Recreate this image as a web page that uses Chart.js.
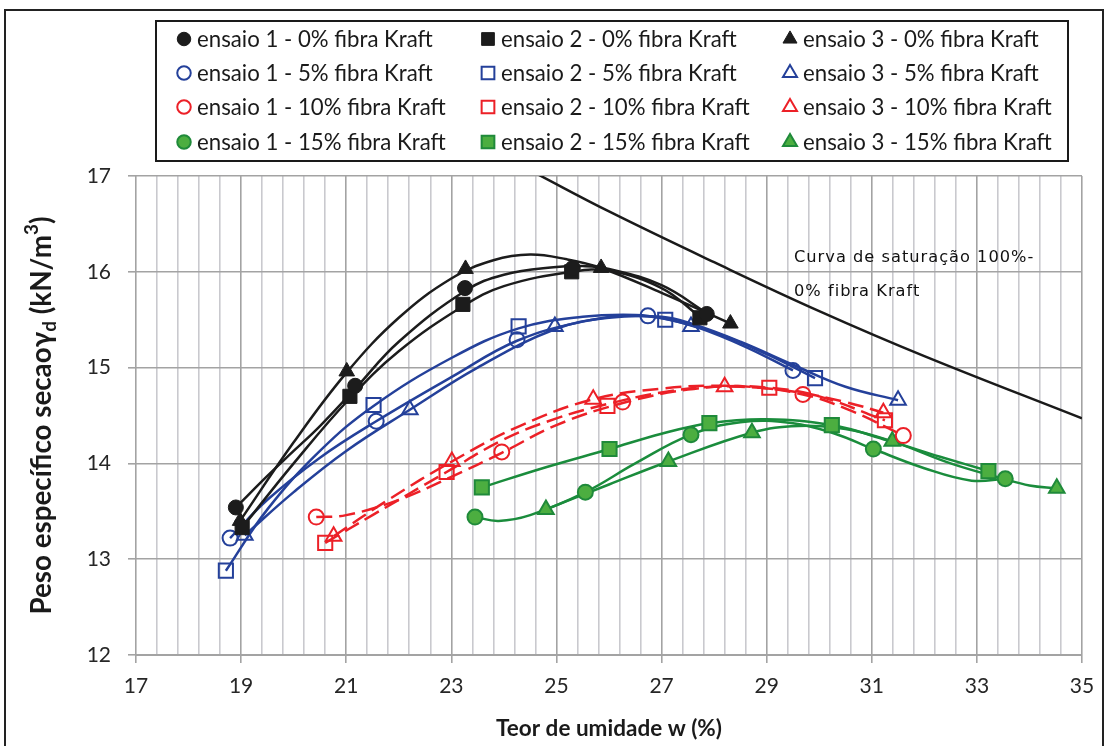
<!DOCTYPE html>
<html><head><meta charset="utf-8">
<script src="https://cdn.jsdelivr.net/npm/chart.js@4.4.1/dist/chart.umd.min.js"></script>
<style>html,body{margin:0;padding:0;background:#fff;}canvas{display:block;}</style>
</head><body>
<canvas id="c" width="1107" height="746"></canvas>
<script>
// ---------- tick labels ----------
const xTickLabels = [17, 19, 21, 23, 25, 27, 29, 31, 33, 35];
const yTickLabels = [12, 13, 14, 15, 16, 17];

// ---------- legend / series names ----------
const seriesNames = [
  'ensaio 1 - 0% fibra Kraft', 'ensaio 2 - 0% fibra Kraft', 'ensaio 3 - 0% fibra Kraft',
  'ensaio 1 - 5% fibra Kraft', 'ensaio 2 - 5% fibra Kraft', 'ensaio 3 - 5% fibra Kraft',
  'ensaio 1 - 10% fibra Kraft', 'ensaio 2 - 10% fibra Kraft', 'ensaio 3 - 10% fibra Kraft',
  'ensaio 1 - 15% fibra Kraft', 'ensaio 2 - 15% fibra Kraft', 'ensaio 3 - 15% fibra Kraft'
];

// ---------- measured points (w %, gamma_d kN/m3) ----------
const w0_e1 = [18.90, 21.17, 23.26, 25.31, 27.86];
const g0_e1 = [13.54, 14.81, 15.83, 16.04, 15.56];
const w0_e2 = [19.02, 21.07, 23.22, 25.29, 27.73];
const g0_e2 = [13.33, 14.70, 15.66, 16.00, 15.52];
const w0_e3 = [18.98, 21.01, 23.27, 25.85, 28.31];
const g0_e3 = [13.40, 14.96, 16.03, 16.04, 15.46];

const w5_e1 = [18.79, 21.57, 24.25, 26.74, 29.50];
const g5_e1 = [13.22, 14.44, 15.29, 15.54, 14.97];
const w5_e2 = [18.71, 21.52, 24.28, 27.07, 29.92];
const g5_e2 = [12.88, 14.61, 15.43, 15.50, 14.89];
const w5_e3 = [19.07, 22.21, 24.97, 27.56, 31.50];
const g5_e3 = [13.25, 14.56, 15.43, 15.43, 14.66];

const w10_e1 = [20.43, 23.96, 26.26, 29.69, 31.60];
const g10_e1 = [13.44, 14.12, 14.64, 14.72, 14.29];
const w10_e2 = [20.60, 22.91, 25.97, 29.05, 31.25];
const g10_e2 = [13.17, 13.91, 14.60, 14.79, 14.45];
const w10_e3 = [20.76, 23.01, 25.70, 28.20, 31.22];
const g10_e3 = [13.24, 14.02, 14.67, 14.80, 14.53];

const w15_e1 = [23.45, 25.55, 27.56, 31.03, 33.54];
const g15_e1 = [13.44, 13.70, 14.30, 14.15, 13.84];
const w15_e2 = [23.58, 26.01, 27.91, 30.24, 33.22];
const g15_e2 = [13.75, 14.15, 14.42, 14.40, 13.92];
const w15_e3 = [24.80, 27.13, 28.72, 31.39, 34.52];
const g15_e3 = [13.52, 14.02, 14.32, 14.23, 13.74];

// ---------- trend curves ----------
const cw0_e1 = [18.9, 19.5, 20, 20.5, 21.17, 22, 23.26, 24, 25, 25.5, 26, 27, 27.86];
const cg0_e1 = [13.54, 13.87, 14.13, 14.39, 14.78, 15.27, 15.80, 15.97, 16.05, 16.06, 16.03, 15.86, 15.57];
const cw0_e2 = [19.02, 20, 21.07, 22, 23.22, 24, 25.29, 26, 27, 27.73];
const cg0_e2 = [13.33, 14.00, 14.68, 15.17, 15.64, 15.85, 16.00, 16.01, 15.83, 15.53];
const cw0_e3 = [18.98, 20, 21.01, 22, 23, 23.8, 24.5, 25.2, 25.85, 27, 28.31];
const cg0_e3 = [13.40, 14.22, 14.95, 15.52, 15.93, 16.12, 16.18, 16.13, 16.04, 15.78, 15.46];

const cw5_e1 = [18.79, 19.5, 20.5, 21.57, 23, 24.25, 25.5, 26.5, 27.5, 28.5, 29.5];
const cg5_e1 = [13.22, 13.62, 14.06, 14.44, 14.90, 15.28, 15.48, 15.54, 15.45, 15.24, 14.97];
const cw5_e2 = [18.71, 19.5, 20.5, 21.52, 23, 24.28, 25.5, 26.5, 27.07, 28, 29, 29.92];
const cg5_e2 = [12.88, 13.52, 14.13, 14.60, 15.10, 15.41, 15.53, 15.55, 15.51, 15.37, 15.14, 14.89];
const cw5_e3 = [19.07, 20, 21, 22.21, 23.5, 24.97, 26, 27, 27.56, 28.5, 29.5, 30.5, 31.5];
const cg5_e3 = [13.25, 13.70, 14.13, 14.56, 15.00, 15.40, 15.52, 15.53, 15.46, 15.27, 15.03, 14.80, 14.66];

const cw10_e1 = [20.43, 21, 22, 23, 23.96, 25, 26.26, 27.5, 28.5, 29.69, 30.6, 31.6];
const cg10_e1 = [13.44, 13.46, 13.62, 13.86, 14.11, 14.40, 14.63, 14.77, 14.80, 14.72, 14.55, 14.29];
const cw10_e2 = [20.60, 21.5, 22.91, 24, 25, 25.97, 27, 28, 29.05, 30, 31.25];
const cg10_e2 = [13.17, 13.46, 13.91, 14.25, 14.47, 14.62, 14.74, 14.80, 14.79, 14.70, 14.45];
const cw10_e3 = [20.76, 21.8, 23.01, 24.3, 25.70, 27, 28.20, 29.5, 30.5, 31.22];
const cg10_e3 = [13.24, 13.62, 14.02, 14.39, 14.67, 14.78, 14.81, 14.75, 14.64, 14.53];

const cw15_e1 = [23.45, 23.9, 24.5, 25.55, 26.5, 27.56, 28.5, 29.5, 30.3, 31.03, 32, 32.9, 33.54];
const cg15_e1 = [13.44, 13.40, 13.46, 13.70, 14.00, 14.30, 14.43, 14.42, 14.31, 14.15, 13.95, 13.82, 13.84];
const cw15_e2 = [23.58, 24.8, 26.01, 27, 27.91, 29, 30.24, 31.3, 32.3, 33.22];
const cg15_e2 = [13.75, 13.96, 14.15, 14.31, 14.42, 14.46, 14.40, 14.24, 14.07, 13.92];
const cw15_e3 = [24.80, 26, 27.13, 28.72, 29.6, 30.5, 31.39, 32.5, 33.5, 34.0, 34.52];
const cg15_e3 = [13.52, 13.78, 14.02, 14.32, 14.39, 14.36, 14.23, 14.00, 13.84, 13.77, 13.74];

// saturation curve (100%, 0% fibra Kraft)
const satW = [24.6, 26, 28, 30, 32, 35];
const satG = [17.03, 16.63, 16.10, 15.59, 15.12, 14.47];
const satLabel = ['Curva de saturação 100%-', '0% fibra Kraft'];

// ---------- styles ----------
const BLACK = '#1c1c1c', BLUE = '#24409a', RED = '#ec2027', GREEN_F = '#4cae40', GREEN_B = '#1f8a3a', GREEN_L = '#1a8c3c';
const markerW = [w0_e1, w0_e2, w0_e3, w5_e1, w5_e2, w5_e3, w10_e1, w10_e2, w10_e3, w15_e1, w15_e2, w15_e3];
const markerG = [g0_e1, g0_e2, g0_e3, g5_e1, g5_e2, g5_e3, g10_e1, g10_e2, g10_e3, g15_e1, g15_e2, g15_e3];
const curveW = [cw0_e1, cw0_e2, cw0_e3, cw5_e1, cw5_e2, cw5_e3, cw10_e1, cw10_e2, cw10_e3, cw15_e1, cw15_e2, cw15_e3];
const curveG = [cg0_e1, cg0_e2, cg0_e3, cg5_e1, cg5_e2, cg5_e3, cg10_e1, cg10_e2, cg10_e3, cg15_e1, cg15_e2, cg15_e3];
const styles = [];
const groupStyle = [
  {stroke: BLACK, fill: BLACK, line: BLACK, dash: []},
  {stroke: BLUE, fill: 'rgba(0,0,0,0)', line: BLUE, dash: []},
  {stroke: RED, fill: 'rgba(0,0,0,0)', line: RED, dash: [16, 7]},
  {stroke: GREEN_B, fill: GREEN_F, line: GREEN_L, dash: []}
];
const shapes = [{ps: 'circle', r: 7.5}, {ps: 'rect', r: 10}, {ps: 'triangle', r: 9}];
for (let g = 0; g < 4; g++) for (let s = 0; s < 3; s++) {
  const gs = groupStyle[g];
  styles.push({ps: shapes[s].ps, r: shapes[s].r, stroke: gs.stroke, fill: gs.fill, line: gs.line, dash: gs.dash, bw: (g === 0) ? 1 : 2});
}

const toXY = (xs, ys) => xs.map((x, i) => ({x: x, y: ys[i]}));
const datasets = [];
for (let i = 0; i < 12; i++) {
  const st = styles[i];
  datasets.push({
    label: seriesNames[i], data: toXY(markerW[i], markerG[i]), showLine: false, order: 0,
    pointStyle: st.ps, pointRadius: st.r, pointHoverRadius: st.r,
    pointBackgroundColor: st.fill, pointBorderColor: st.stroke, pointBorderWidth: st.bw
  });
}
for (let i = 0; i < 12; i++) {
  const st = styles[i];
  datasets.push({
    label: 'curve ' + i, data: toXY(curveW[i], curveG[i]), showLine: true, order: 1,
    pointRadius: 0, borderColor: st.line, borderWidth: 2.5, borderDash: st.dash, tension: 0.4, fill: false
  });
}
datasets.push({label: 'saturação', data: toXY(satW, satG), showLine: true, order: 1, pointRadius: 0,
  borderColor: '#1a1a1a', borderWidth: 2.5, tension: 0.4, fill: false});

const FONT = 'Lato, "Open Sans", sans-serif';
const isMajorX = v => xTickLabels.some(t => Math.abs(t - v) < 1e-6);

function fitSize(ctx, text, weight, family, target) {
  ctx.font = weight + ' 20px ' + family;
  return 20 * target / ctx.measureText(text).width;
}

const deco = {
  id: 'deco',
  beforeDraw(chart) {
    const ctx = chart.ctx;
    ctx.save(); ctx.fillStyle = '#fff'; ctx.fillRect(0, 0, chart.width, chart.height); ctx.restore();
  },
  afterDraw(chart) {
    const ctx = chart.ctx;
    const ca = chart.chartArea;
    ctx.save();
    // outer frame
    ctx.strokeStyle = '#222'; ctx.lineWidth = 2;
    ctx.strokeRect(5, 10, 1098, 760);
    // legend box
    ctx.strokeStyle = '#1a1a1a'; ctx.lineWidth = 2;
    ctx.strokeRect(156, 21, 912, 140);
    const colMarkerX = [184, 488, 790];
    const colTextX = [197, 501, 803];
    const rowY = [39, 73, 107, 142];
    const lsize = fitSize(ctx, seriesNames[0], 'normal', FONT, 236);
    ctx.textBaseline = 'middle'; ctx.textAlign = 'left';
    for (let i = 0; i < 12; i++) {
      const r = Math.floor(i / 3), c = i % 3;
      const st = styles[i];
      ctx.fillStyle = st.fill; ctx.strokeStyle = st.stroke; ctx.lineWidth = st.bw;
      Chart.helpers.drawPoint(ctx, {pointStyle: st.ps, rotation: 0, radius: st.r * 0.9, borderWidth: st.bw}, colMarkerX[c], rowY[r]);
      ctx.fillStyle = '#1a1a1a';
      ctx.font = 'normal ' + lsize.toFixed(2) + 'px ' + FONT;
      ctx.fillText(seriesNames[i], colTextX[c], rowY[r] + 1);
    }
    // saturation label
    ctx.fillStyle = '#111';
    ctx.font = '15px "DejaVu Sans"';
    try { ctx.letterSpacing = '1px'; } catch (e) {}
    const s1 = fitSize(ctx, satLabel[0], 'normal', '"DejaVu Sans"', 236);
    ctx.font = s1.toFixed(2) + 'px "DejaVu Sans"';
    ctx.fillText(satLabel[0], 794, 258);
    ctx.fillText(satLabel[1], 794, 292);
    try { ctx.letterSpacing = '0px'; } catch (e) {}
    // x title
    const xt = 'Teor de umidade w (%)';
    const xs = fitSize(ctx, xt, 'bold', FONT, 226);
    ctx.font = 'bold ' + xs.toFixed(2) + 'px ' + FONT;
    ctx.fillStyle = '#1a1a1a'; ctx.textAlign = 'center';
    ctx.fillText(xt, (ca.left + ca.right) / 2, 729);
    // y title with sub/superscript
    const parts = [
      {t: 'Peso específico secao', s: 1, dy: 0},
      {t: 'γ', s: 1, dy: 0},
      {t: 'd', s: 0.68, dy: 0.28},
      {t: ' (kN/m', s: 1, dy: 0},
      {t: '3', s: 0.68, dy: -0.38},
      {t: ')', s: 1, dy: 0}
    ];
    let base = 20, total = 0;
    parts.forEach(p => { ctx.font = 'bold ' + (base * p.s) + 'px ' + FONT; p.w = ctx.measureText(p.t).width; total += p.w; });
    const k = 398 / total;
    base *= k;
    ctx.save();
    ctx.translate(42, (ca.top + ca.bottom) / 2);
    ctx.rotate(-Math.PI / 2);
    ctx.textAlign = 'left'; ctx.textBaseline = 'middle';
    let x = -398 / 2;
    parts.forEach(p => {
      ctx.font = 'bold ' + (base * p.s).toFixed(2) + 'px ' + FONT;
      ctx.fillText(p.t, x, p.dy * base);
      x += p.w * k;
    });
    ctx.restore();
    ctx.restore();
  }
};

new Chart(document.getElementById('c'), {
  type: 'scatter',
  data: {datasets: datasets},
  options: {
    responsive: false, animation: false, devicePixelRatio: 1,
    layout: {padding: {left: 0, right: 25, top: 176, bottom: 0}},
    plugins: {legend: {display: false}, tooltip: {enabled: false}, title: {display: false}},
    scales: {
      x: {
        type: 'linear', min: 17, max: 35,
        afterBuildTicks: s => { const t = []; for (let i = 0; i <= 45; i++) t.push({value: Math.round((17 + i * 0.4) * 10) / 10}); s.ticks = t; },
        afterFit: s => { s.height = 91; },
        ticks: {
          autoSkip: false, maxRotation: 0, minRotation: 0, padding: 11,
          callback: v => isMajorX(v) ? String(Math.round(v)) : '',
          font: {family: FONT, size: 21}, color: '#262626'
        },
        grid: {
          color: c => (c.tick && isMajorX(c.tick.value)) ? '#a3a3a3' : '#c9c9ce',
          lineWidth: 1.6, tickLength: 8,
          tickColor: c => (c.tick && isMajorX(c.tick.value)) ? '#a3a3a3' : 'rgba(0,0,0,0)'
        },
        border: {display: true, color: '#a3a3a3', width: 2}
      },
      y: {
        type: 'linear', min: 12, max: 17,
        afterBuildTicks: s => { s.ticks = yTickLabels.map(v => ({value: v})); },
        afterFit: s => { s.width = 136; },
        ticks: {padding: 17, font: {family: FONT, size: 21}, color: '#262626', callback: v => String(v)},
        grid: {color: '#a3a3a3', lineWidth: 1.6, tickLength: 8, tickColor: '#a3a3a3'},
        border: {display: false}
      }
    }
  },
  plugins: [deco]
});
</script>
</body></html>
